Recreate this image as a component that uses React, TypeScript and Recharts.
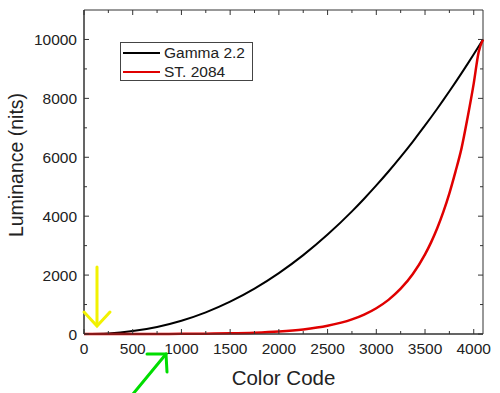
import React from "react";
import {
  LineChart,
  Line,
  XAxis,
  YAxis,
  ReferenceArea,
  Legend,
} from "recharts";

// color codes (12-bit) and luminance
const codes = [
  0, 250, 500, 750, 1000, 1250, 1500, 1750, 2000, 2250, 2500, 2750, 2875,
  3000, 3125, 3250, 3375, 3500, 3562, 3625, 3687, 3750, 3812, 3875, 3937,
  4000, 4050, 4095,
];
const gamma22 = [
  0, 21, 98, 239, 450, 735, 1098, 1541, 2067, 2678, 3377, 4164, 4593, 5044,
  5517, 6014, 6535, 7080, 7358, 7648, 7938, 8240, 8542, 8856, 9171, 9497,
  9760, 10000,
];
const st2084 = [
  0, 0, 0.6, 1.9, 4.8, 11, 23, 45, 85, 155, 279, 496, 660, 876, 1159, 1537,
  2037, 2704, 3111, 3590, 4136, 4776, 5505, 6311, 7349, 8508, 9567, 10000,
];

const xTicks = [
  0, 250, 500, 750, 1000, 1250, 1500, 1750, 2000, 2250, 2500, 2750, 3000,
  3250, 3500, 3750, 4000,
];
const yTicks = [0, 1000, 2000, 3000, 4000, 5000, 6000, 7000, 8000, 9000, 10000];

const data = codes.map((c, i) => ({
  code: c,
  gamma: gamma22[i],
  pq: st2084[i],
}));

const FONT = "'Liberation Sans', Arial, sans-serif";
const AXIS = "#333";
const TEXT = "#222";
const PLOT_W = 399;
const PLOT_H = 324;

function XTick(props: any) {
  const { x, y, payload } = props;
  const major = payload.value % 500 === 0;
  const len = major ? 5 : 3;
  return (
    <g>
      <line x1={x} x2={x} y1={y} y2={y - len} stroke={AXIS} />
      <line x1={x} x2={x} y1={y - PLOT_H} y2={y - PLOT_H + len} stroke={AXIS} />
      {major && (
        <text
          x={x}
          y={y + 20}
          textAnchor="middle"
          fontFamily={FONT}
          fontSize={15.5}
          fill={TEXT}
        >
          {payload.value}
        </text>
      )}
    </g>
  );
}

function YTick(props: any) {
  const { x, y, payload } = props;
  const major = payload.value % 2000 === 0;
  const len = major ? 5 : 3;
  return (
    <g>
      <line x1={x} x2={x + len} y1={y} y2={y} stroke={AXIS} />
      <line x1={x + PLOT_W} x2={x + PLOT_W - len} y1={y} y2={y} stroke={AXIS} />
      {major && (
        <text
          x={x - 7}
          y={y + 5.5}
          textAnchor="end"
          fontFamily={FONT}
          fontSize={15.5}
          fill={TEXT}
        >
          {payload.value}
        </text>
      )}
    </g>
  );
}

function YLabel(props: any) {
  const vb = props.viewBox || { x: 0, y: 10, width: 84, height: PLOT_H };
  const cx = vb.x + 23;
  const cy = vb.y + vb.height / 2 - 7;
  return (
    <text
      x={cx}
      y={cy}
      transform={`rotate(-90 ${cx} ${cy})`}
      textAnchor="middle"
      fontFamily={FONT}
      fontSize={19.5}
      fill={TEXT}
    >
      Luminance (nits)
    </text>
  );
}

function XLabel(props: any) {
  const vb = props.viewBox || { x: 84, y: 334, width: PLOT_W, height: 59 };
  return (
    <text
      x={vb.x + vb.width / 2}
      y={vb.y + 51}
      textAnchor="middle"
      fontFamily={FONT}
      fontSize={20.5}
      fill={TEXT}
    >
      Color Code
    </text>
  );
}

function LegendBox() {
  const row = (color: string, label: string) => (
    <div style={{ display: "flex", alignItems: "center", height: 19 }}>
      <span
        style={{
          display: "inline-block",
          width: 37,
          height: 2,
          background: color,
          marginRight: 4,
        }}
      />
      <span style={{ fontFamily: FONT, fontSize: 15.5, color: TEXT }}>
        {label}
      </span>
    </div>
  );
  return (
    <div
      style={{
        boxSizing: "border-box",
        border: "1px solid #444",
        padding: "0 0 0 2px",
        width: 133,
        height: 39,
        background: "#fff",
      }}
    >
      {row("#000", "Gamma 2.2")}
      {row("#e00000", "ST. 2084")}
    </div>
  );
}

export default function App() {
  return (
    <div style={{ position: "absolute", left: 0, top: 0, width: 500, height: 393 }}>
      <LineChart
        width={500}
        height={393}
        data={data}
        margin={{ top: 10, right: 17, left: 0, bottom: 0 }}
      >
        <XAxis
          dataKey="code"
          type="number"
          domain={[0, 4095]}
          ticks={xTicks}
          interval={0}
          tickSize={0}
          tickMargin={0}
          tickLine={false}
          tick={<XTick />}
          height={59}
          stroke={AXIS}
          label={<XLabel />}
        />
        <YAxis
          type="number"
          domain={[0, 11000]}
          ticks={yTicks}
          interval={0}
          tickSize={0}
          tickMargin={0}
          tickLine={false}
          tick={<YTick />}
          width={84}
          stroke={AXIS}
          label={<YLabel />}
        />
        <ReferenceArea
          x1={0}
          x2={4095}
          y1={0}
          y2={11000}
          fill="none"
          stroke={AXIS}
          strokeWidth={1}
        />
        <Line
          dataKey="gamma"
          type="monotone"
          stroke="#000"
          strokeWidth={2}
          dot={false}
          isAnimationActive={false}
        />
        <Line
          dataKey="pq"
          type="monotone"
          stroke="#e00000"
          strokeWidth={2.5}
          dot={false}
          isAnimationActive={false}
        />
        <Legend
          content={<LegendBox />}
          layout="vertical"
          align="center"
          verticalAlign="middle"
          wrapperStyle={{ position: "absolute", left: 120, top: 42, width: "auto" }}
        />
      </LineChart>
      <svg
        width={500}
        height={393}
        style={{ position: "absolute", left: 0, top: 0, pointerEvents: "none" }}
      >
        <g stroke="#f2f200" strokeWidth={3} fill="none" strokeLinecap="round">
          <line x1={97} y1={267} x2={97} y2={325} />
          <polyline points="84,312 97,326 110,312" />
        </g>
        <g stroke="#00dd00" strokeWidth={3} fill="none" strokeLinecap="round">
          <line x1={133} y1={394} x2={166} y2={354} />
          <polyline points="147,354 166,354 167,372" />
        </g>
      </svg>
    </div>
  );
}
